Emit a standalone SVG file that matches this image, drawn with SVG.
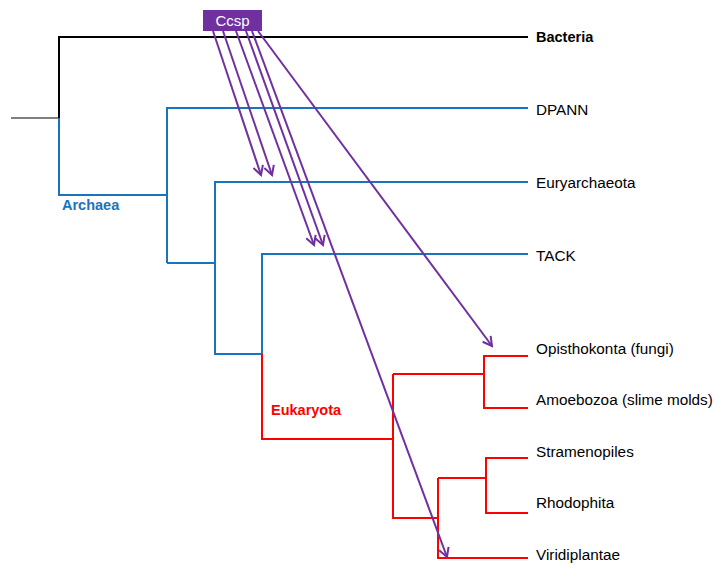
<svg xmlns="http://www.w3.org/2000/svg" width="719" height="568" viewBox="0 0 719 568">
<defs>
<style>
.t{font-family:"Liberation Sans",Arial,sans-serif;font-size:15.3px;fill:#000}
.b{font-weight:bold;font-size:14.5px}
.c{font-family:"Liberation Sans",Arial,sans-serif;font-size:15px;fill:#fff}
.bk{fill:none;stroke:#000;stroke-width:2}
.bl{fill:none;stroke:#1a73bd;stroke-width:2}
.rd{fill:none;stroke:#ff0000;stroke-width:2}
.gr{fill:none;stroke:#808080;stroke-width:2}
.ar{fill:none;stroke:#7030a0;stroke-width:2;marker-end:url(#ah)}
</style>
<marker id="ah" viewBox="0 0 12 12" refX="10" refY="6" markerWidth="12" markerHeight="12" markerUnits="userSpaceOnUse" orient="auto">
<path d="M1,1 L10,6 L1,11" fill="none" stroke="#7030a0" stroke-width="2"/>
</marker>
</defs>
<rect width="719" height="568" fill="#fff"/>
<g id="tree">
<path class="gr" d="M11,118 H59"/>
<path class="bk" d="M59,118 V37 H528"/>
<path class="bl" d="M59,118 V195 H167"/>
<path class="bl" d="M167,263 V108 H528"/>
<path class="bl" d="M167,263 H215 V182 H528"/>
<path class="bl" d="M215,263 V354 H262 V254 H528"/>
<path class="rd" d="M262,354 V439 H393"/>
<path class="rd" d="M393,374 V518 H438"/>
<path class="rd" d="M393,374 H484"/>
<path class="rd" d="M528,356 H484 V408 H528"/>
<path class="rd" d="M438,478 H486"/>
<path class="rd" d="M528,458 H486 V513 H528"/>
<path class="rd" d="M438,478 V558 H528"/>
</g>
<g id="connectors">
<path class="ar" d="M213,31 L261,175"/>
<path class="ar" d="M223,31 L272,175"/>
<path class="ar" d="M236,31 L314,245"/>
<path class="ar" d="M246,31 L323,245"/>
<path class="ar" d="M252,31 L447,557"/>
<path class="ar" d="M258,31 L492,346"/>
</g>
<g id="ccsp">
<rect x="203" y="10" width="59" height="21" fill="#7030a0"/>
<text class="c" x="232.5" y="26" text-anchor="middle">Ccsp</text>
</g>
<g id="labels">
<text class="t b" x="536" y="42">Bacteria</text>
<text class="t" x="536" y="115">DPANN</text>
<text class="t" x="536" y="188">Euryarchaeota</text>
<text class="t" x="536" y="261">TACK</text>
<text class="t" x="536" y="354">Opisthokonta (fungi)</text>
<text class="t" x="536" y="405">Amoebozoa (slime molds)</text>
<text class="t" x="536" y="457">Stramenopiles</text>
<text class="t" x="536" y="508">Rhodophita</text>
<text class="t" x="536" y="560">Viridiplantae</text>
<text class="t b" x="62" y="210" style="fill:#1a73bd">Archaea</text>
<text class="t b" x="271" y="415" style="fill:#ff0000">Eukaryota</text>
</g>
</svg>
